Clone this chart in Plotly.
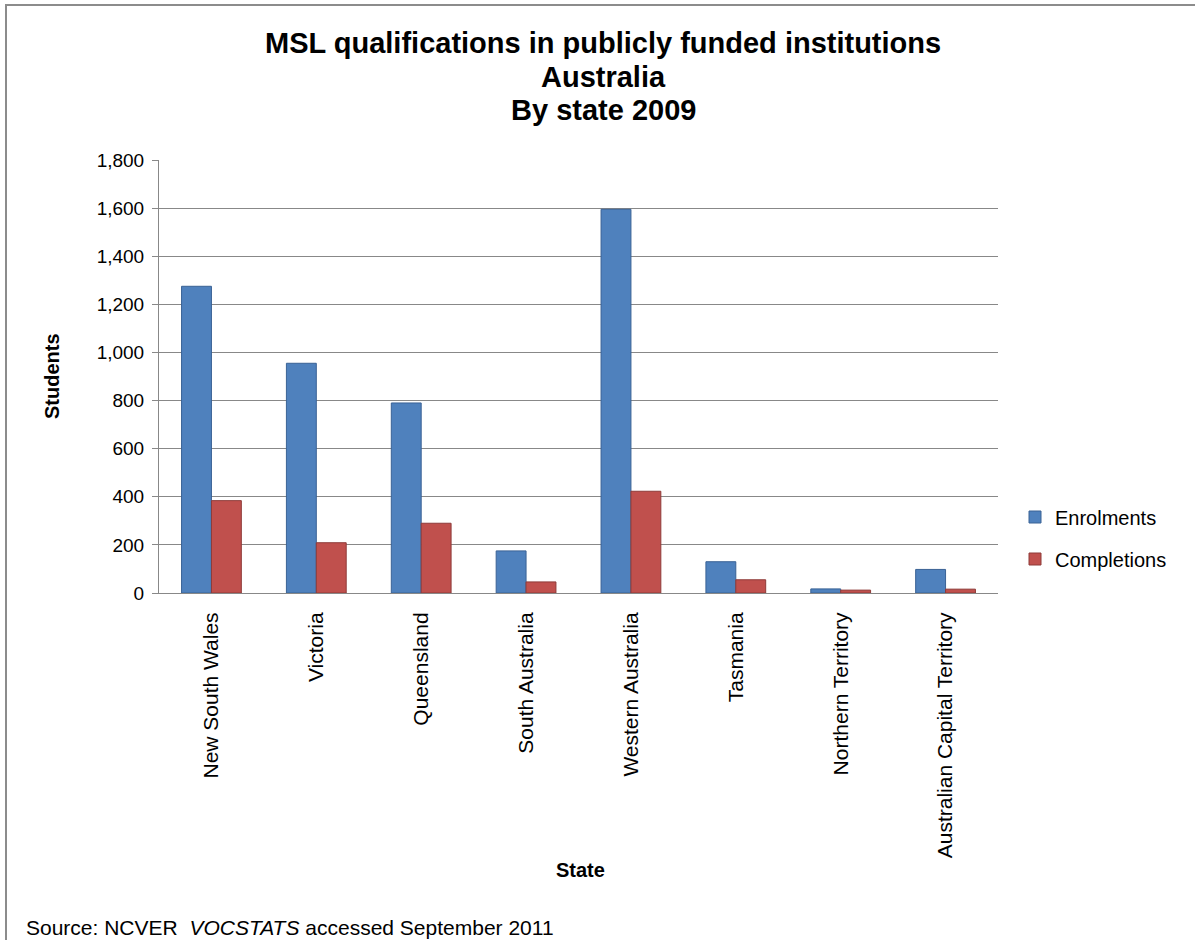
import plotly.graph_objects as go

# Students in MSL qualifications, publicly funded institutions, 2009
states = [
    "New South Wales", "Victoria", "Queensland", "South Australia",
    "Western Australia", "Tasmania", "Northern Territory",
    "Australian Capital Territory",
]
enrolments = [1275, 955, 790, 175, 1595, 130, 17, 98]
completions = [384, 209, 290, 46, 423, 55, 12, 16]

y_ticks = [0, 200, 400, 600, 800, 1000, 1200, 1400, 1600, 1800]
y_tick_labels = ["0", "200", "400", "600", "800", "1,000", "1,200", "1,400", "1,600", "1,800"]

title_lines = [
    "MSL qualifications in publicly funded institutions",
    "Australia",
    "By state 2009",
]

W, H = 1195, 940
PLOT_L, PLOT_R, PLOT_T, PLOT_B = 159, 998, 160, 593

FONT = "Liberation Sans, Arial, sans-serif"
GRID = "#888888"


def px_x(p):
    return (p - PLOT_L) / (PLOT_R - PLOT_L)


def px_y(p):
    return (PLOT_B - p) / (PLOT_B - PLOT_T)


fig = go.Figure()
fig.add_trace(go.Bar(
    x=states, y=enrolments, name="Enrolments", legendgroup="e",
    marker=dict(color="#4F81BD", line=dict(color="#3A6295", width=1)),
))
fig.add_trace(go.Bar(
    x=states, y=completions, name="Completions", legendgroup="c",
    marker=dict(color="#C0504D", line=dict(color="#8E3B39", width=1)),
))

fig.update_layout(
    width=W, height=H,
    margin=dict(l=PLOT_L, r=W - PLOT_R, t=PLOT_T, b=H - PLOT_B, autoexpand=False),
    paper_bgcolor="white", plot_bgcolor="white",
    font=dict(family=FONT, color="black", size=19),
    barmode="group", bargap=0.43, bargroupgap=0,
    showlegend=True,
    legend=dict(
        x=px_x(1015), xanchor="left", y=px_y(538), yanchor="middle",
        font=dict(size=20, family=FONT), traceorder="grouped",
        tracegroupgap=13, itemwidth=30, bgcolor="rgba(0,0,0,0)",
    ),
    xaxis=dict(
        tickangle=-90, showgrid=False, showline=True, linecolor=GRID,
        linewidth=1, ticks="", tickfont=dict(size=21, family=FONT),
        ticklabelstandoff=10,
    ),
    yaxis=dict(
        range=[0, 1800], tickvals=y_ticks, ticktext=y_tick_labels,
        showgrid=True, gridcolor=GRID, gridwidth=1, zeroline=False,
        showline=True, linecolor=GRID, linewidth=1,
        ticks="outside", ticklen=6, tickcolor=GRID,
        tickfont=dict(size=19, family=FONT), ticklabelstandoff=4,
    ),
)

# Chart title, one annotation per line
for line, cy in zip(title_lines, [43, 77, 110]):
    fig.add_annotation(
        text=f"<b>{line}</b>", showarrow=False,
        xref="paper", yref="paper", x=px_x(603), y=px_y(cy),
        xanchor="center", yanchor="middle", font=dict(size=29, family=FONT),
    )

# Axis titles
fig.add_annotation(
    text="<b>Students</b>", textangle=-90, showarrow=False,
    xref="paper", yref="paper", x=px_x(52), y=px_y(376),
    xanchor="center", yanchor="middle", font=dict(size=20, family=FONT),
)
fig.add_annotation(
    text="<b>State</b>", showarrow=False,
    xref="paper", yref="paper", x=px_x(580), y=px_y(870),
    xanchor="center", yanchor="middle", font=dict(size=20, family=FONT),
)

# Source note
fig.add_annotation(
    text="Source: NCVER  <i>VOCSTATS</i> accessed September 2011", showarrow=False,
    xref="paper", yref="paper", x=px_x(24), y=px_y(927),
    xanchor="left", yanchor="middle", font=dict(size=21, family=FONT),
)

# Chart frame
fig.add_shape(
    type="rect", xref="paper", yref="paper",
    x0=px_x(6), x1=px_x(1215), y0=px_y(960), y1=px_y(5),
    line=dict(color="#8C8C8C", width=2), fillcolor="rgba(0,0,0,0)", layer="below",
)

fig.write_html("out.html")
